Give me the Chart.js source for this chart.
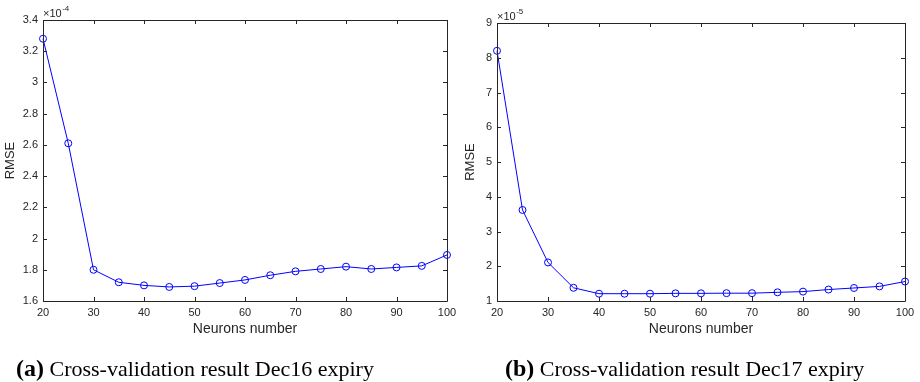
<!DOCTYPE html>
<html>
<head>
<meta charset="utf-8">
<script src="https://cdn.jsdelivr.net/npm/chart.js@4.4.1/dist/chart.umd.min.js"></script>
<style>
  html, body { margin: 0; padding: 0; background: #fff; }
  body { width: 920px; height: 382px; position: relative; overflow: hidden; }
  canvas { position: absolute; top: 0; }
  .cap { position: absolute; top: 357px; font-family: "Liberation Serif", "Times New Roman", serif; font-size: 22px; line-height: 22px; color: #000; white-space: nowrap; }
  .cap b { font-size: 24px; }
</style>
</head>
<body>
<canvas id="cA" width="460" height="382" style="left:0px;width:460px;height:382px"></canvas>
<canvas id="cB" width="460" height="382" style="left:460px;width:460px;height:382px"></canvas>
<div class="cap" style="left:16px"><b>(a)</b> Cross-validation result Dec16 expiry</div>
<div class="cap" style="left:505px"><b>(b)</b> Cross-validation result Dec17 expiry</div>
<script>
// ---- data ----
const neurons = [20, 25, 30, 35, 40, 45, 50, 55, 60, 65, 70, 75, 80, 85, 90, 95, 100];
// Dec16 RMSE, in units of 1e-4
const rmseDec16 = [3.28, 2.61, 1.80, 1.72, 1.70, 1.69, 1.695, 1.715, 1.735, 1.765, 1.79, 1.805, 1.82, 1.805, 1.815, 1.825, 1.895];
// Dec17 RMSE, in units of 1e-5
const rmseDec17 = [8.20, 3.62, 2.11, 1.38, 1.21, 1.21, 1.21, 1.22, 1.22, 1.225, 1.225, 1.25, 1.27, 1.33, 1.375, 1.42, 1.56];
const expDec16 = "-4";
const expDec17 = "-5";
const xTicks = [20, 30, 40, 50, 60, 70, 80, 90, 100];
const yTicksDec16 = [1.6, 1.8, 2, 2.2, 2.4, 2.6, 2.8, 3, 3.2, 3.4];
const yTicksDec17 = [1, 2, 3, 4, 5, 6, 7, 8, 9];

const AXC = '#262626';
const FONT = '"Liberation Sans", Arial, Helvetica, sans-serif';

const boxPlugin = {
  id: 'matlabBox',
  afterDraw(chart, args, opts) {
    const ctx = chart.ctx;
    const a = chart.chartArea;
    const xs = chart.scales.x, ys = chart.scales.y;
    ctx.save();
    ctx.strokeStyle = AXC;
    ctx.lineWidth = 1;
    ctx.beginPath();
    ctx.rect(Math.round(a.left) + 0.5, Math.round(a.top) + 0.5, Math.round(a.right - a.left), Math.round(a.bottom - a.top));
    const tl = 4;
    xs.ticks.forEach(t => {
      const px = Math.round(xs.getPixelForValue(t.value)) + 0.5;
      ctx.moveTo(px, a.bottom); ctx.lineTo(px, a.bottom - tl);
      ctx.moveTo(px, a.top); ctx.lineTo(px, a.top + tl);
    });
    ys.ticks.forEach(t => {
      const py = Math.round(ys.getPixelForValue(t.value)) + 0.5;
      ctx.moveTo(a.left, py); ctx.lineTo(a.left + tl, py);
      ctx.moveTo(a.right, py); ctx.lineTo(a.right - tl, py);
    });
    ctx.stroke();
    // exponent label
    ctx.fillStyle = AXC;
    ctx.textBaseline = 'alphabetic';
    ctx.textAlign = 'left';
    ctx.font = '11px ' + FONT;
    const base = a.top - 3;
    const s = '\u00d710';
    ctx.fillText(s, a.left, base);
    const w = ctx.measureText(s).width;
    ctx.font = '8px ' + FONT;
    ctx.fillText(opts.exp, a.left + w + 0.5, base - 6);
    ctx.restore();
  }
};

function makeChart(id, values, yTicks, exp, pad, yWidth) {
  const yMin = yTicks[0], yMax = yTicks[yTicks.length - 1];
  return new Chart(document.getElementById(id), {
    type: 'line',
    data: {
      datasets: [{
        data: neurons.map((n, i) => ({ x: n, y: values[i] })),
        borderColor: '#0000ff',
        borderWidth: 1,
        backgroundColor: 'rgba(0,0,0,0)',
        pointRadius: 3.5,
        pointBorderWidth: 1,
        pointBorderColor: '#0000ff',
        pointBackgroundColor: 'rgba(0,0,0,0)',
        tension: 0,
        clip: false
      }]
    },
    options: {
      responsive: false,
      animation: false,
      devicePixelRatio: 1,
      layout: { padding: pad, autoPadding: false },
      plugins: { legend: { display: false }, tooltip: { enabled: false }, matlabBox: { exp: exp } },
      scales: {
        x: {
          type: 'linear',
          min: xTicks[0], max: xTicks[xTicks.length - 1],
          afterBuildTicks: s => { s.ticks = xTicks.map(v => ({ value: v })); },
          afterFit: s => { s.height = 37; s.paddingLeft = 0; s.paddingRight = 0; },
          grid: { display: false, drawTicks: false },
          border: { display: false },
          ticks: { padding: 5, color: AXC, font: { family: FONT, size: 11 }, maxRotation: 0, autoSkip: false, callback: v => String(v) },
          title: { display: true, text: 'Neurons number', color: AXC, font: { family: FONT, size: 14 }, padding: { top: 0, bottom: 0 } }
        },
        y: {
          type: 'linear',
          min: yMin, max: yMax,
          afterBuildTicks: s => { s.ticks = yTicks.map(v => ({ value: v })); },
          afterFit: s => { s.width = yWidth; s.paddingTop = 0; s.paddingBottom = 0; },
          grid: { display: false, drawTicks: false },
          border: { display: false },
          ticks: { padding: 5, color: AXC, font: { family: FONT, size: 11 }, autoSkip: false, callback: v => String(parseFloat(Number(v).toFixed(2))) },
          title: { display: true, text: 'RMSE', color: AXC, font: { family: FONT, size: 13 }, padding: { top: 3, bottom: 0 } }
        }
      }
    },
    plugins: [boxPlugin]
  });
}

makeChart('cA', rmseDec16, yTicksDec16, expDec16, { left: 0, top: 20, right: 13, bottom: 44 }, 43);
makeChart('cB', rmseDec17, yTicksDec17, expDec17, { left: 0, top: 23, right: 15, bottom: 44 }, 37);
</script>
</body>
</html>
